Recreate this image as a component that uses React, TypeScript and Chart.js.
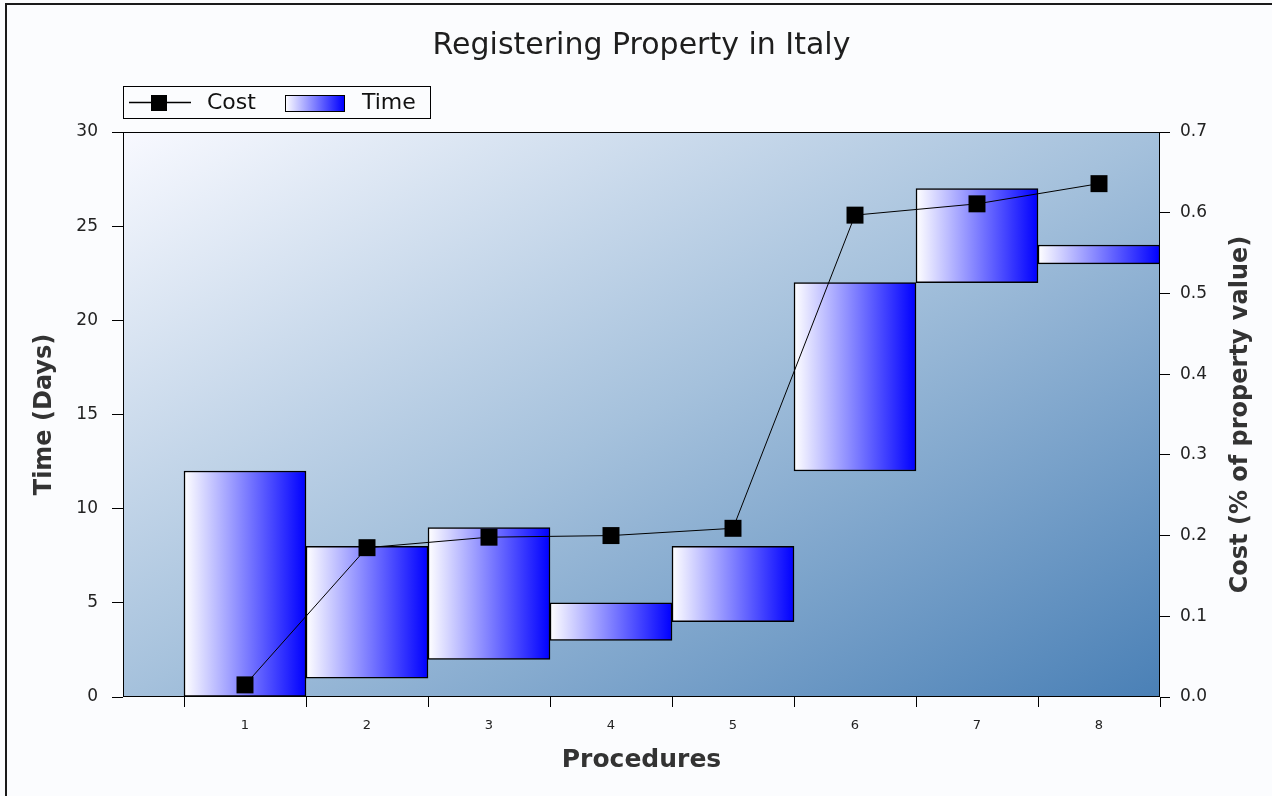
import React, { useEffect, useRef } from 'react';
import { Chart, registerables } from 'chart.js';

Chart.register(...registerables);

// ---- data ----
const procedures = [1, 2, 3, 4, 5, 6, 7, 8];
const timeStart = [0, 1, 2, 3, 4, 12, 22, 23];
const timeEnd = [12, 8, 9, 5, 8, 22, 27, 24];
const cost = [0.015, 0.185, 0.198, 0.2, 0.209, 0.597, 0.611, 0.636];
const timeTicks = [0, 5, 10, 15, 20, 25, 30];
const costTicks = [0, 0.1, 0.2, 0.3, 0.4, 0.5, 0.6, 0.7];
const procedureTickMarks = [0.5, 1.5, 2.5, 3.5, 4.5, 5.5, 6.5, 7.5, 8.5];

const chartTitle = 'Registering Property in Italy';
const xTitle = 'Procedures';
const yTitle = 'Time (Days)';
const y1Title = 'Cost (% of property value)';
const costLabel = 'Cost';
const timeLabel = 'Time';

const W = 1272;
const H = 796;
const FONT = "'DejaVu Sans', 'Liberation Sans', sans-serif";

const decor = {
  id: 'decor',
  beforeDraw(chart: any) {
    const ctx = chart.ctx;
    ctx.save();
    ctx.fillStyle = '#fbfcfe';
    ctx.fillRect(0, 0, W, H);
    ctx.strokeStyle = '#1a1a1a';
    ctx.lineWidth = 2;
    ctx.beginPath();
    ctx.moveTo(6, H);
    ctx.lineTo(6, 4);
    ctx.lineTo(W, 4);
    ctx.stroke();
    ctx.restore();
  },
  beforeDatasetsDraw(chart: any) {
    const { ctx, chartArea: a } = chart;
    if (!a) return;
    const w = a.right - a.left;
    const h = a.bottom - a.top;
    const n2 = w * w + h * h;
    const k = (2 * w * h) / n2;
    ctx.save();
    const g = ctx.createLinearGradient(a.left, a.top, a.left + h * k, a.top + w * k);
    g.addColorStop(0, '#f8f9ff');
    g.addColorStop(0.5, '#a5c1dc');
    g.addColorStop(1, '#4a80b6');
    ctx.fillStyle = g;
    ctx.fillRect(a.left, a.top, w, h);
    ctx.strokeStyle = '#000';
    ctx.lineWidth = 1;
    ctx.strokeRect(a.left + 0.5, a.top + 0.5, w - 1, h - 1);
    ctx.restore();
  },
  afterDraw(chart: any) {
    const { ctx, chartArea: a } = chart;
    if (!a) return;
    const xs = chart.scales.x;
    ctx.save();
    // x tick marks between categories
    ctx.strokeStyle = '#000';
    ctx.lineWidth = 1;
    ctx.beginPath();
    for (const v of procedureTickMarks) {
      const px = Math.round(xs.getPixelForValue(v)) + 0.5;
      ctx.moveTo(px, a.bottom);
      ctx.lineTo(px, a.bottom + 10);
    }
    ctx.stroke();

    // title
    const cx = (a.left + a.right) / 2;
    ctx.fillStyle = '#1e1e1e';
    ctx.textAlign = 'center';
    ctx.textBaseline = 'alphabetic';
    ctx.font = `30px ${FONT}`;
    ctx.fillText(chartTitle, cx, 54);

    // x title
    ctx.font = `bold 25px ${FONT}`;
    ctx.fillStyle = '#333';
    ctx.textBaseline = 'middle';
    ctx.fillText(xTitle, cx, 760);

    // y title (left)
    const cy = (a.top + a.bottom) / 2;
    ctx.font = `bold 24px ${FONT}`;
    ctx.save();
    ctx.translate(45, cy);
    ctx.rotate(-Math.PI / 2);
    ctx.fillText(yTitle, 0, 0);
    ctx.restore();

    // y1 title (right)
    ctx.save();
    ctx.translate(1241, cy);
    ctx.rotate(-Math.PI / 2);
    ctx.fillText(y1Title, 0, 0);
    ctx.restore();

    // legend
    ctx.fillStyle = '#fbfcfe';
    ctx.fillRect(123, 86, 307, 32);
    ctx.strokeStyle = '#000';
    ctx.lineWidth = 1;
    ctx.strokeRect(123.5, 86.5, 307, 32);
    ctx.lineWidth = 1.5;
    ctx.beginPath();
    ctx.moveTo(129, 102.5);
    ctx.lineTo(191, 102.5);
    ctx.stroke();
    ctx.fillStyle = '#000';
    ctx.fillRect(151, 95, 16, 16);
    ctx.font = `22px ${FONT}`;
    ctx.fillStyle = '#111';
    ctx.textAlign = 'left';
    ctx.textBaseline = 'middle';
    ctx.fillText(costLabel, 207, 103);
    const lg = ctx.createLinearGradient(285, 0, 344, 0);
    lg.addColorStop(0, '#ffffff');
    lg.addColorStop(1, '#0000ff');
    ctx.fillStyle = lg;
    ctx.fillRect(285, 95, 59, 16);
    ctx.lineWidth = 1;
    ctx.strokeStyle = '#000';
    ctx.strokeRect(285.5, 95.5, 59, 16);
    ctx.fillStyle = '#111';
    ctx.fillText(timeLabel, 362, 103);
    ctx.restore();
  },
};

export default function App() {
  const ref = useRef<HTMLCanvasElement | null>(null);

  useEffect(() => {
    if (!ref.current) return;
    Chart.defaults.font.family = FONT;
    const chart = new Chart(ref.current, {
      type: 'bar',
      data: {
        datasets: [
          {
            type: 'line',
            label: costLabel,
            data: procedures.map((p, i) => ({ x: p, y: cost[i] })),
            xAxisID: 'x',
            yAxisID: 'y1',
            borderColor: '#000',
            borderWidth: 1,
            pointStyle: 'rect',
            pointRadius: 12,
            pointBackgroundColor: '#000',
            pointBorderColor: '#000',
            pointBorderWidth: 0,
            tension: 0,
            order: 0,
          } as any,
          {
            type: 'bar',
            label: timeLabel,
            data: procedures.map((p, i) => ({ x: p, y: [timeStart[i], timeEnd[i]] })),
            xAxisID: 'x',
            yAxisID: 'y',
            barPercentage: 1,
            categoryPercentage: 1,
            borderColor: '#000',
            borderWidth: 1.5,
            borderSkipped: false,
            backgroundColor: (c: any) => {
              const ch = c.chart;
              const xs = ch.scales && ch.scales.x;
              if (!xs || c.dataIndex === undefined) return '#8080ff';
              const v = procedures[c.dataIndex];
              const l = xs.getPixelForValue(v - 0.5);
              const r = xs.getPixelForValue(v + 0.5);
              if (!Number.isFinite(l) || !Number.isFinite(r) || l === r) return '#8080ff';
              const g = ch.ctx.createLinearGradient(l, 0, r, 0);
              g.addColorStop(0, '#ffffff');
              g.addColorStop(1, '#0000ff');
              return g;
            },
            order: 1,
          } as any,
        ],
      },
      options: {
        responsive: false,
        animation: false,
        layout: { padding: { top: 132, left: 0, right: 0, bottom: 0 } },
        plugins: {
          legend: { display: false },
          title: { display: false },
          tooltip: { enabled: false },
        },
        scales: {
          x: {
            type: 'linear',
            min: 0,
            max: 8.5,
            offset: false,
            afterBuildTicks: (s: any) => {
              s.ticks = procedures.map((v) => ({ value: v }));
            },
            afterFit: (s: any) => {
              s.height = H - 697;
            },
            ticks: {
              autoSkip: false,
              maxRotation: 0,
              padding: 13,
              color: '#222',
              font: { size: 13 },
              callback: (v: any) => String(v),
            },
            grid: { display: false, offset: false },
            border: { display: false },
          },
          y: {
            type: 'linear',
            position: 'left',
            min: 0,
            max: 30,
            afterBuildTicks: (s: any) => {
              s.ticks = timeTicks.map((v) => ({ value: v }));
            },
            afterFit: (s: any) => {
              s.width = 123;
            },
            ticks: {
              padding: 14,
              color: '#222',
              font: { size: 17 },
              callback: (v: any) => String(v),
            },
            grid: {
              display: true,
              drawOnChartArea: false,
              drawTicks: true,
              tickLength: 11,
              color: '#000',
            },
            border: { display: false },
          },
          y1: {
            type: 'linear',
            position: 'right',
            min: 0,
            max: 0.7,
            afterBuildTicks: (s: any) => {
              s.ticks = costTicks.map((v) => ({ value: v }));
            },
            afterFit: (s: any) => {
              s.width = W - 1160;
            },
            ticks: {
              padding: 10,
              color: '#222',
              font: { size: 17 },
              callback: (v: any) => Number(v).toFixed(1),
            },
            grid: {
              display: true,
              drawOnChartArea: false,
              drawTicks: true,
              tickLength: 10,
              color: '#000',
            },
            border: { display: false },
          },
        },
      } as any,
      plugins: [decor],
    });
    return () => chart.destroy();
  }, []);

  return (
    <div style={{ position: 'absolute', left: 0, top: 0, width: W, height: H, background: '#fbfcfe' }}>
      <canvas ref={ref} width={W} height={H} style={{ display: 'block', width: W, height: H }} />
    </div>
  );
}
